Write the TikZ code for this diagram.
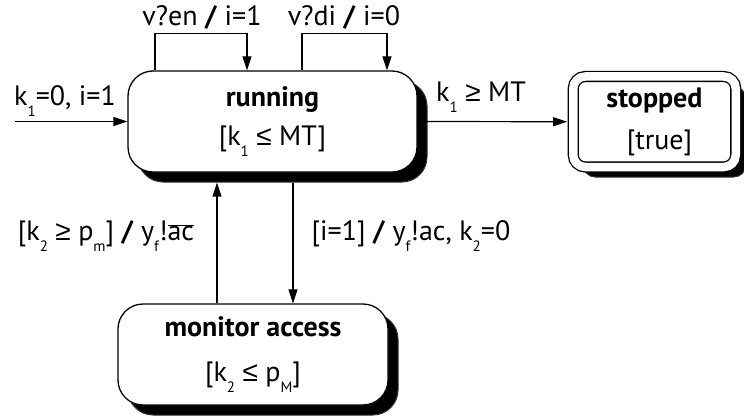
\documentclass[tikz,border=0pt]{standalone}
\usepackage{fontspec}
\setmainfont{PT Sans}
\newfontfamily\symf{Liberation Sans}
\usetikzlibrary{arrows.meta,shadows}
\newcommand\sbs[1]{\raisebox{-0.75ex}{\fontsize{15}{15}\selectfont #1}}
\newcommand\ovl[1]{$\overline{\hbox{#1}}$}
\newcommand\bsl{\textbf{/}}
\newcommand\mle{{\symf ≤}}
\newcommand\mge{{\symf ≥}}
\begin{document}
\begin{tikzpicture}[x=1pt,y=-1pt,
  every node/.style={font=\fontsize{28}{34}\selectfont},
  state/.style={draw,line width=1.3pt,fill=white,rounded corners=25pt,inner sep=0pt,align=center,
    drop shadow={shadow xshift=10pt,shadow yshift=-10pt,fill=black,opacity=1,fill opacity=1,draw=black!80,line width=1pt}},
  lbl/.style={inner sep=0pt},
  arr/.style={-{Triangle[length=14pt,width=9pt]},line width=1.2pt}]
\useasboundingbox (0,0) rectangle (744,417);
\node[state,minimum width=289pt,minimum height=101pt] (running) at (272.5,121.5)
  {\textbf{running}\\[5pt]{[}k\sbs{1} \mle{} MT{]}};
\node[state,minimum width=270pt,minimum height=101pt] (monitor) at (253,354.5)
  {\textbf{monitor access}\\[11pt]{[}k\sbs{2} \mle{} p\sbs{M}{]}};
\node[state,rounded corners=12pt,double=white,double distance=8.5pt,line width=1.3pt,
  minimum width=162.5pt,minimum height=90.5pt] (stopped) at (654.5,121.75)
  {\textbf{stopped}\\[8pt]\hspace*{10pt}{[}true{]}};
\coordinate (init) at (15,121.5);
\draw[arr] (init) -- (running.west);
\node[lbl] (linit) at (65,101) {k\sbs{1}=0, i=1};
\draw[arr] ([xshift=-117.5pt]running.north) -- ++(0,-37) -| ([xshift=-25.5pt]running.north);
\draw[arr] ([xshift=29.5pt]running.north) -- ++(0,-37) -| ([xshift=114.5pt]running.north);
\node[lbl] (lloop1) at (202,17) {v?en \bsl{} i=1};
\node[lbl] (lloop2) at (344,17) {v?di \bsl{} i=0};
\draw[arr,shorten >=5.5pt] (running.east) -- (stopped.west);
\node[lbl] (lstop) at (481,97) {k\sbs{1} \mge{} MT};
\draw[arr,shorten >=10pt] ([xshift=-36pt]monitor.north) -- ([xshift=-55.5pt]running.south);
\draw[arr,shorten <=10pt] ([xshift=20.5pt]running.south) -- ([xshift=40pt]monitor.north);
\node[lbl] (lup) at (106,236) {{[}k\sbs{2} \mge{} p\sbs{m}{]} \bsl{} y\sbs{f}!\ovl{ac}};
\node[lbl] (ldown) at (411,236) {{[}i=1{]} \bsl{} y\sbs{f}!ac, k\sbs{2}=0};
\end{tikzpicture}
\end{document}
